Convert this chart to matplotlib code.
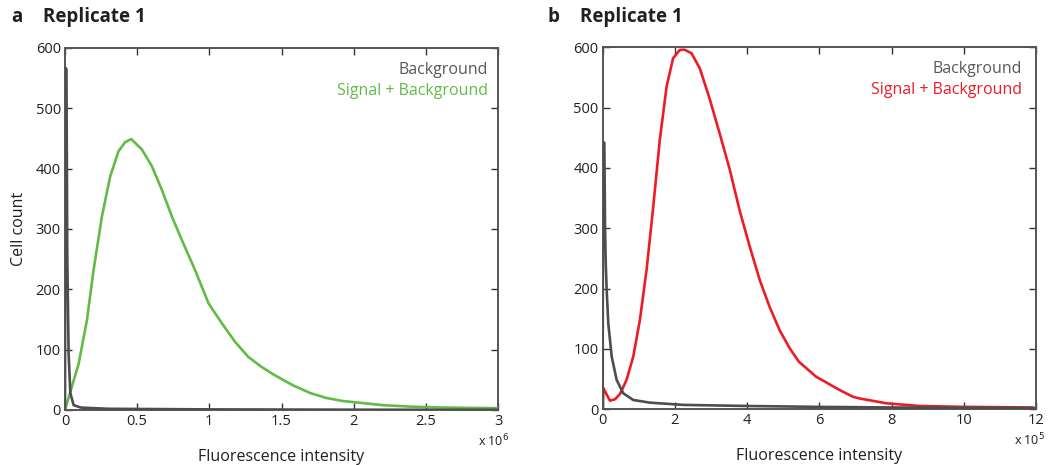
import matplotlib
matplotlib.use("Agg")
import matplotlib.pyplot as plt

plt.rcParams['font.family'] = ['Open Sans', 'DejaVu Sans']

# Panel a: intensity in units of 1e6
a_sig_x = [0, 0.048, 0.095, 0.152, 0.198, 0.256, 0.313, 0.371, 0.417, 0.459, 0.532, 0.602, 0.671,
           0.74, 0.809, 0.901, 0.994, 1.086, 1.178, 1.27, 1.358, 1.45, 1.579, 1.7, 1.81, 1.92,
           2.04, 2.2, 2.4, 2.6, 2.8, 3.0]
a_sig_y = [0, 39, 77, 149, 232, 321, 387, 429, 444, 449, 432, 404, 365,
           321, 282, 232, 177, 144, 113, 88, 72, 58, 41, 28, 20, 15,
           12, 8, 5.5, 4.2, 3.5, 3]
a_bg_x = [0, 0.003, 0.01, 0.016, 0.025, 0.037, 0.06, 0.11, 0.3, 1, 2, 3]
a_bg_y = [0, 567, 565, 250, 94, 28, 8, 4, 2, 1, 0.5, 0.3]

# Panel b: intensity in units of 1e5
b_sig_x = [0, 0.02, 0.091, 0.2, 0.34, 0.48, 0.66, 0.845, 1.03, 1.215, 1.4, 1.58, 1.77, 1.95,
           2.135, 2.27, 2.46, 2.69, 2.96, 3.24, 3.52, 3.79, 4.07, 4.35, 4.62, 4.9, 5.18,
           5.43, 5.91, 6.56, 6.92, 7.11, 7.85, 8.77, 10, 11.9]
b_sig_y = [0, 35, 26.5, 14.3, 16.6, 25.4, 48.6, 87, 148, 231, 336, 446, 535, 582,
           595.6, 596, 590, 565, 515, 457, 397, 330, 270, 214, 170, 131, 101,
           79, 54, 32, 21, 18, 10, 5.5, 4, 3]
b_bg_x = [0, 0.005, 0.045, 0.065, 0.085, 0.11, 0.155, 0.25, 0.387, 0.57, 0.845, 1.31, 2.23,
          3.98, 6, 8, 10, 12]
b_bg_y = [0, 442, 442, 300, 240, 198, 142, 87, 48.6, 26.5, 15.4, 11, 7.3,
          5.5, 4, 3, 2.5, 2]

gray = '#4d4d4f'
green = '#62bb46'
red = '#ed1c24'

fig = plt.figure(figsize=(10.5, 4.65), dpi=100)
ax1 = fig.add_axes([0.0619, 0.1183, 0.4124, 0.7785])
ax2 = fig.add_axes([0.574, 0.1198, 0.4127, 0.7785])

panels = [
    (ax1, a_bg_x, a_bg_y, a_sig_x, a_sig_y, green, 3, [0, 0.5, 1, 1.5, 2, 2.5, 3],
     ['0', '0.5', '1', '1.5', '2', '2.5', '3'], '6', 0.977, 0.99),
    (ax2, b_bg_x, b_bg_y, b_sig_x, b_sig_y, red, 12, [0, 2, 4, 6, 8, 10, 12],
     ['0', '2', '4', '6', '8', '10', '12'], '5', 0.968, 0.984),
]

for ax, bx, by, sx, sy, col, xmax, xt, xtl, exp, lx, ex in panels:
    ax.plot(sx, sy, color=col, lw=1.9, solid_joinstyle='round', zorder=3)
    ax.plot(bx, by, color=gray, lw=1.9, solid_joinstyle='round', zorder=4)
    ax.set_xlim(0, xmax)
    ax.set_ylim(0, 600)
    ax.set_xticks(xt)
    ax.set_xticklabels(xtl)
    ax.set_yticks([0, 100, 200, 300, 400, 500, 600])
    ax.tick_params(direction='in', length=5, width=1, color='#333333', top=True, right=True,
                   labelsize=10.5, pad=3, labelcolor='#231f20')
    for s in ax.spines.values():
        s.set_color('#555555')
        s.set_linewidth(1.4)
    ax.set_xlabel('Fluorescence intensity', fontsize=11.5, color='#231f20', labelpad=14)
    ax.text(lx, 0.939, 'Background', transform=ax.transAxes, ha='right', va='center',
            fontsize=11.5, color='#58595b')
    ax.text(lx, 0.881, 'Signal + Background', transform=ax.transAxes, ha='right', va='center',
            fontsize=11.5, color=col)
    # exponent note below the last tick label
    ax.text(ex, -0.086, r'x 10$^{%s}$' % exp, transform=ax.transAxes, ha='center', va='center',
            fontsize=9, color='#231f20')

ax1.set_ylabel('Cell count', fontsize=11.5, color='#231f20', labelpad=6)

fig.text(0.011, 0.963, 'a', fontsize=13.5, fontweight='bold', va='center', color='#231f20')
fig.text(0.041, 0.963, 'Replicate 1', fontsize=13.5, fontweight='bold', va='center', color='#231f20')
fig.text(0.521, 0.963, 'b', fontsize=13.5, fontweight='bold', va='center', color='#231f20')
fig.text(0.552, 0.963, 'Replicate 1', fontsize=13.5, fontweight='bold', va='center', color='#231f20')

fig.savefig('out.png', dpi=100)
